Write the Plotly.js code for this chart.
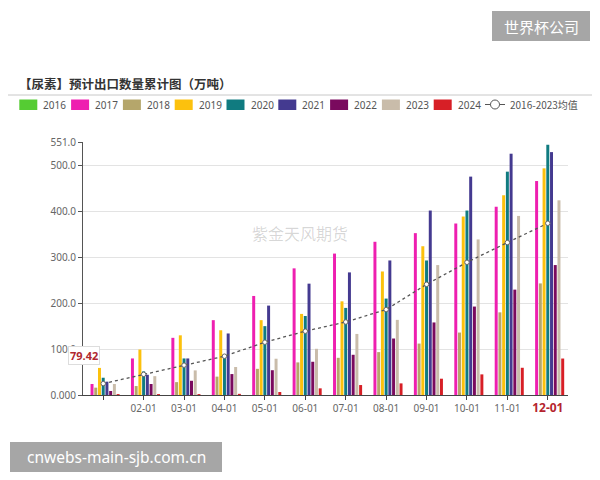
<!DOCTYPE html>
<html>
<head>
<meta charset="utf-8">
<script src="https://cdn.plot.ly/plotly-3.0.1.min.js"></script>
<style>html,body{margin:0;padding:0;background:#fff;}#chart{width:600px;height:480px;}</style>
</head>
<body>
<div id="chart"></div>
<script>
// ---- data ----
const months = ["01-01","02-01","03-01","04-01","05-01","06-01","07-01","08-01","09-01","10-01","11-01","12-01"];
const tickLabels = ["","02-01","03-01","04-01","05-01","06-01","07-01","08-01","09-01","10-01","11-01","12-01"];
const seriesNames = ["2016","2017","2018","2019","2020","2021","2022","2023","2024"];
const y2016 = [null,null,null,null,null,null,null,null,null,null,null,null];
const y2017 = [24, 79.6, 124.5, 163, 215.7, 275.8, 308, 333.7, 352.5, 373.5, 410, 466];
const y2018 = [16, 19.5, 28, 40, 57, 71, 81, 93.4, 112, 136, 180, 243];
const y2019 = [59, 99, 130, 141, 163, 176.6, 204, 269, 324, 388.7, 435, 493.6];
const y2020 = [37.6, 51.4, 79.6, 87, 150, 172, 189.7, 210, 293, 401.7, 486.4, 545];
const y2021 = [29, 44, 79.6, 134, 194.7, 242.5, 267, 293, 401.7, 475.6, 525.5, 529];
const y2022 = [8.7, 24, 31, 45.6, 54, 72.4, 87.6, 123, 158, 192.6, 229.5, 283];
const y2023 = [24, 41, 53.6, 61, 79, 100.6, 133, 163.6, 283, 338.8, 390, 424];
const y2024 = [2, 2, 2, 2.5, 6.5, 14.5, 21.7, 25.3, 35.5, 44.9, 59.3, 79.42];
const avgName = "2016-2023均值";
const avg = [24.8, 45, 65, 84.5, 115, 139, 159, 186, 241, 289, 332, 374];
const latestValue = 79.42;
const yTickVals = [0, 100, 200, 300, 400, 500, 551];
const yTickText = ["0.000", "100.0", "200.0", "300.0", "400.0", "500.0", "551.0"];
const titleText = "【尿素】预计出口数量累计图（万吨）";
const watermark = "紫金天风期货";
const topBadge = "世界杯公司";
const bottomBadge = "cnwebs-main-sjb.com.cn";

// ---- styling ----
const colors = ["#55cc33","#ee1fb0","#b5a66b","#fcc10d","#107b80","#443a90","#7a0a5e","#c9bcaa","#d71f26"];
const allSeries = [y2016,y2017,y2018,y2019,y2020,y2021,y2022,y2023,y2024];

const W = 600, H = 480;
const M = {l: 83, r: 32, t: 142, b: 85};
const px = x => (x - M.l) / (W - M.l - M.r);
const py = y => 1 - (y - M.t) / (H - M.t - M.b);

const traces = allSeries.map((s, i) => ({
  type: 'bar', name: seriesNames[i], x: months, y: s,
  marker: {color: colors[i]}, showlegend: false, hoverinfo: 'none'
}));
traces.push({
  type: 'scatter', mode: 'lines+markers', name: avgName, x: months, y: avg,
  line: {color: '#555', width: 1.3, dash: 'dot'},
  marker: {symbol: 'circle', size: 4.5, color: '#fff', line: {color: '#666', width: 1}},
  showlegend: false, hoverinfo: 'none'
});

const shapes = [];
const annotations = [];
// title + rule
annotations.push({xref:'paper', yref:'paper', x: px(17), y: py(83), xanchor:'left', yanchor:'middle',
  text: '<b>' + titleText + '</b>', showarrow:false,
  font:{family:'"Noto Sans CJK SC", sans-serif', size:12.5, color:'#333'}});
shapes.push({type:'line', xref:'paper', yref:'paper', x0: px(8), x1: px(592), y0: py(95), y1: py(95),
  line:{color:'#c8c8c8', width:1}});
// legend
const legStep = 51.8;
seriesNames.forEach((n, i) => {
  const x0 = 19.3 + i * legStep;
  shapes.push({type:'rect', xref:'paper', yref:'paper', x0: px(x0), x1: px(x0 + 18), y0: py(99.5), y1: py(110),
    fillcolor: colors[i], line:{width:0}});
  annotations.push({xref:'paper', yref:'paper', x: px(x0 + 22), y: py(104.5), xanchor:'left', yanchor:'middle',
    text: n, showarrow:false, font:{family:'"Noto Sans", sans-serif', size:10, color:'#555'}});
});
shapes.push({type:'line', xref:'paper', yref:'paper', x0: px(485), x1: px(505), y0: py(104.5), y1: py(104.5),
  line:{color:'#555', width:1}});
shapes.push({type:'circle', xref:'paper', yref:'paper', x0: px(490.5), x1: px(499.5), y0: py(100), y1: py(109),
  fillcolor:'#fff', line:{color:'#555', width:1}});
annotations.push({xref:'paper', yref:'paper', x: px(508), y: py(104.5), xanchor:'left', yanchor:'middle',
  text: avgName, showarrow:false, font:{family:'"Noto Sans CJK SC", sans-serif', size:10, color:'#555'}});
// watermark
annotations.push({xref:'paper', yref:'paper', x: px(300), y: py(233), xanchor:'center', yanchor:'middle',
  text: watermark, showarrow:false, font:{family:'"Noto Sans CJK SC", sans-serif', size:16, color:'rgba(0,0,0,0.17)'}});
// latest value label
annotations.push({xref:'paper', yref:'y', x: px(83.5), y: latestValue, yshift: 3, xanchor:'center', yanchor:'middle',
  text: '<b>' + latestValue.toFixed(2) + '</b>', showarrow:false, bgcolor:'#fff', bordercolor:'#ddd', borderwidth:1, borderpad:1,
  font:{family:'"Noto Sans", sans-serif', size:11, color:'#b0282f'}});
// badges
shapes.push({type:'rect', xref:'paper', yref:'paper', x0: px(492), x1: px(590), y0: py(11), y1: py(41),
  fillcolor:'#a6a6a6', line:{width:0}});
annotations.push({xref:'paper', yref:'paper', x: px(541), y: py(26), xanchor:'center', yanchor:'middle',
  text: topBadge, showarrow:false, font:{family:'"Noto Sans CJK SC", sans-serif', size:15, color:'#fff'}});
shapes.push({type:'rect', xref:'paper', yref:'paper', x0: px(10), x1: px(222), y0: py(442), y1: py(472),
  fillcolor:'#a6a6a6', line:{width:0}});
annotations.push({xref:'paper', yref:'paper', x: px(116), y: py(457), xanchor:'center', yanchor:'middle',
  text: bottomBadge, showarrow:false, font:{family:'"Noto Sans", sans-serif', size:15.5, color:'#fff'}});

const tickText = tickLabels.map((t, i) => i === tickLabels.length - 1
  ? '<b><span style="color:#b5242e;font-size:12px">' + t + '</span></b>' : t);

const layout = {
  width: W, height: H, margin: M,
  paper_bgcolor:'#fff', plot_bgcolor:'#fff',
  barmode:'group', bargap: 0.17, bargroupgap: 0.2,
  showlegend:false,
  font:{family:'"Noto Sans", sans-serif'},
  xaxis:{type:'category', categoryorder:'array', categoryarray: months, automargin:false,
    range:[-0.5, months.length - 0.5],
    tickmode:'array', tickvals: months, ticktext: tickText,
    showline:true, linecolor:'#444', linewidth:1, ticks:'outside', ticklen:4, tickcolor:'#444',
    showgrid:false, zeroline:false, tickfont:{size:10, color:'#666'}},
  yaxis:{range:[0, 551], tickmode:'array', tickvals: yTickVals, ticktext: yTickText, automargin:false,
    showline:true, linecolor:'#555', linewidth:1, ticks:'outside', ticklen:4, tickcolor:'#555',
    showgrid:true, gridcolor:'#e3e3e3', gridwidth:1, zeroline:false,
    tickfont:{size:10, color:'#666'}},
  shapes: shapes, annotations: annotations
};

Plotly.newPlot('chart', traces, layout, {staticPlot:true, displayModeBar:false});
</script>
</body>
</html>
